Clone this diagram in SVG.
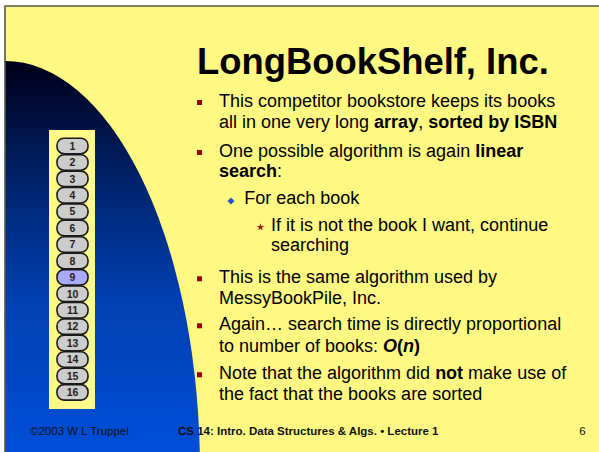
<svg xmlns="http://www.w3.org/2000/svg" width="599" height="452" viewBox="0 0 599 452">
<defs>
<linearGradient id="blue" x1="0" y1="61" x2="0" y2="452" gradientUnits="userSpaceOnUse">
<stop offset="0" stop-color="#000018"/>
<stop offset="0.33" stop-color="#002570"/>
<stop offset="0.6" stop-color="#003FB0"/>
<stop offset="1" stop-color="#004ED8"/>
</linearGradient>
<style>
.book rect.p{fill:#CCCCCC;stroke:#1a1a1a;stroke-width:1.6}
.book text{font-family:"Liberation Sans Narrow","Liberation Sans",Arial,sans-serif;font-weight:bold;font-size:10.5px;fill:#222;text-anchor:middle}
.body{font-family:"Liberation Sans",Arial,sans-serif;font-size:18px;fill:#000}
.b{font-weight:bold}
.sq{fill:#990000}
.foot{font-family:"Liberation Sans",Arial,sans-serif;font-size:11.5px;fill:#111}
</style>
</defs>
<rect x="0" y="0" width="599" height="452" fill="#FFFFFF"/>
<rect x="5" y="6" width="594" height="446" fill="#FFF984"/>
<path d="M5,61 A195,409 0 0 1 199.8,452 L5,452 Z" fill="url(#blue)"/>
<path d="M5,452 V6 H599" fill="none" stroke="#55554a" stroke-width="1.6"/>

<g id="shelf">
<rect x="49" y="130" width="46" height="279" fill="#FFF98A"/>
</g>
<g id="book1" class="book"><rect class="p" x="57" y="138.2" width="31" height="15.5" rx="7"/><text x="72.5" y="149.7">1</text></g>
<g id="book2" class="book"><rect class="p" x="57" y="154.7" width="31" height="15.5" rx="7"/><text x="72.5" y="166.1">2</text></g>
<g id="book3" class="book"><rect class="p" x="57" y="171.1" width="31" height="15.5" rx="7"/><text x="72.5" y="182.5">3</text></g>
<g id="book4" class="book"><rect class="p" x="57" y="187.5" width="31" height="15.5" rx="7"/><text x="72.5" y="198.9">4</text></g>
<g id="book5" class="book"><rect class="p" x="57" y="203.9" width="31" height="15.5" rx="7"/><text x="72.5" y="215.4">5</text></g>
<g id="book6" class="book"><rect class="p" x="57" y="220.3" width="31" height="15.5" rx="7"/><text x="72.5" y="231.8">6</text></g>
<g id="book7" class="book"><rect class="p" x="57" y="236.8" width="31" height="15.5" rx="7"/><text x="72.5" y="248.2">7</text></g>
<g id="book8" class="book"><rect class="p" x="57" y="253.2" width="31" height="15.5" rx="7"/><text x="72.5" y="264.6">8</text></g>
<g id="book9" class="book"><rect class="p" x="57" y="269.6" width="31" height="15.5" rx="7" style="fill:#AAAAFA"/><text x="72.5" y="281">9</text></g>
<g id="book10" class="book"><rect class="p" x="57" y="286" width="31" height="15.5" rx="7"/><text x="72.5" y="297.5">10</text></g>
<g id="book11" class="book"><rect class="p" x="57" y="302.5" width="31" height="15.5" rx="7"/><text x="72.5" y="313.9">11</text></g>
<g id="book12" class="book"><rect class="p" x="57" y="318.9" width="31" height="15.5" rx="7"/><text x="72.5" y="330.3">12</text></g>
<g id="book13" class="book"><rect class="p" x="57" y="335.3" width="31" height="15.5" rx="7"/><text x="72.5" y="346.7">13</text></g>
<g id="book14" class="book"><rect class="p" x="57" y="351.7" width="31" height="15.5" rx="7"/><text x="72.5" y="363.2">14</text></g>
<g id="book15" class="book"><rect class="p" x="57" y="368.2" width="31" height="15.5" rx="7"/><text x="72.5" y="379.6">15</text></g>
<g id="book16" class="book"><rect class="p" x="57" y="384.6" width="31" height="15.5" rx="7"/><text x="72.5" y="396">16</text></g>

<g id="connectors"/>

<g id="title">
<text x="197" y="74" font-family="Liberation Sans, Arial, sans-serif" font-weight="bold" font-size="36.4" fill="#000">LongBookShelf, Inc.</text>
</g>

<g id="bullets">
<rect class="sq" x="197" y="100" width="5" height="5"/>
<text class="body" x="219" y="106.7">This competitor bookstore keeps its books</text>
<text class="body" x="219" y="127.7">all in one very long <tspan class="b">array</tspan>, <tspan class="b">sorted by ISBN</tspan></text>

<rect class="sq" x="197" y="150" width="5" height="5"/>
<text class="body" x="219" y="156.7">One possible algorithm is again <tspan class="b">linear</tspan></text>
<text class="body" x="219" y="177.3"><tspan class="b">search</tspan>:</text>

<path d="M231,197.5 L234.5,201 L231,204.5 L227.5,201 Z" fill="#1F55D6"/>
<text class="body" x="244.3" y="204">For each book</text>

<path d="M260.5,223.3 L261.4,226 L264.2,226 L261.9,227.7 L262.8,230.4 L260.5,228.7 L258.2,230.4 L259.1,227.7 L256.8,226 L259.6,226 Z" fill="#A01818"/>
<text class="body" x="271" y="230.7">If it is not the book I want, continue</text>
<text class="body" x="271" y="250.7">searching</text>

<rect class="sq" x="197" y="276.3" width="5" height="5"/>
<text class="body" x="219" y="283">This is the same algorithm used by</text>
<text class="body" x="219" y="304">MessyBookPile, Inc.</text>

<rect class="sq" x="197" y="323.3" width="5" height="5"/>
<text class="body" x="219" y="330">Again… search time is directly proportional</text>
<text class="body" x="219" y="351.7">to number of books: <tspan class="b" font-style="italic">O</tspan><tspan class="b">(</tspan><tspan class="b" font-style="italic">n</tspan><tspan class="b">)</tspan></text>

<rect class="sq" x="197" y="372.3" width="5" height="5"/>
<text class="body" x="219" y="379">Note that the algorithm did <tspan class="b">not</tspan> make use of</text>
<text class="body" x="219" y="400">the fact that the books are sorted</text>
</g>

<g id="footer">
<text class="foot" x="30" y="434.5">©2003 W L Truppel</text>
<text class="foot" x="178" y="435" font-weight="bold">CS 14: Intro. Data Structures &amp; Algs. • Lecture 1</text>
<text class="foot" x="579.3" y="434.7">6</text>
</g>
</svg>
